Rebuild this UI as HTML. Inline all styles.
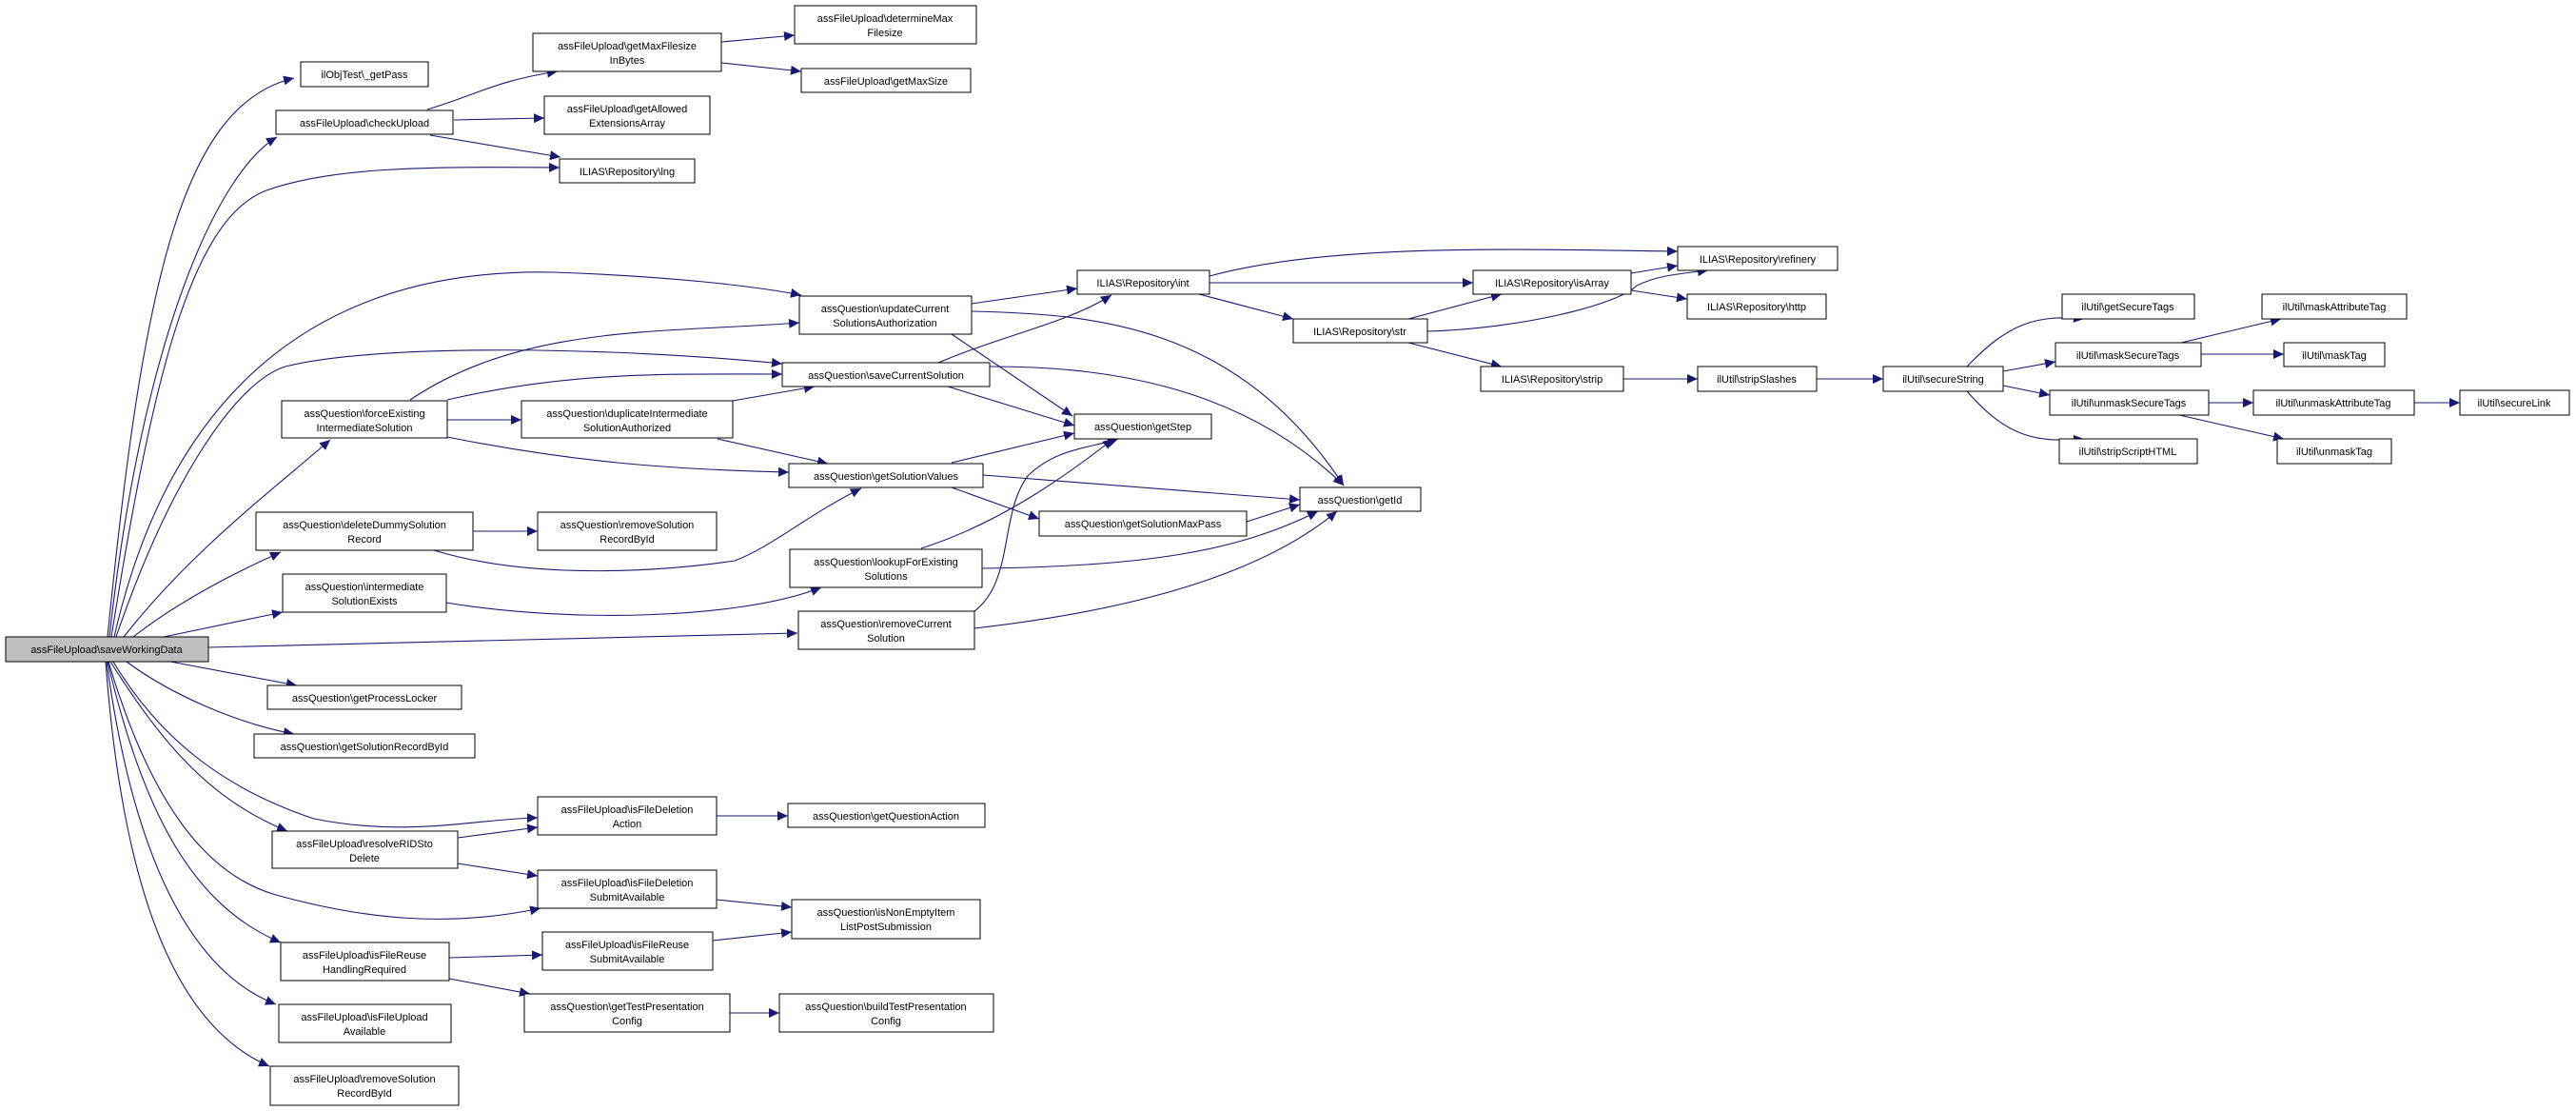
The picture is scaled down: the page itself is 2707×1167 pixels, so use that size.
<!DOCTYPE html>
<html><head><meta charset="utf-8"><style>
html,body{margin:0;padding:0;background:#fff;}
svg{display:block;}
text{font-family:"Liberation Sans",Arial,sans-serif;font-size:11px;fill:#000;}
.e{fill:none;stroke:#191970;stroke-width:1.1;marker-end:url(#a);}
.n{fill:#fff;stroke:#000;stroke-width:1;}
</style></head><body>
<svg width="2707" height="1167" viewBox="0 0 2707 1167" xmlns="http://www.w3.org/2000/svg">
<defs><marker id="a" markerUnits="userSpaceOnUse" markerWidth="12" markerHeight="10" refX="11" refY="5" orient="auto"><path d="M0,0 L11,5 L0,10 z" fill="#191970"/></marker></defs>
<g>
<!-- edges from saveWorkingData -->
<path class="e" d="M113,669 C150,300 190,110 309,82"/>
<path class="e" d="M115,669 C150,350 230,180 291,144"/>
<path class="e" d="M117,669 C160,400 200,230 280,200 C350,175 450,175 588,176"/>
<path class="e" d="M120,669 C170,450 300,280 582,286 C700,290 790,300 842,310"/>
<path class="e" d="M122,669 C180,500 250,400 300,385 C400,360 650,365 822,382"/>
<path class="e" d="M130,669 C200,580 280,520 347,462"/>
<path class="e" d="M140,669 C190,630 250,600 295,580"/>
<path class="e" d="M172,669 L297,643"/>
<path class="e" d="M219,680 L838,665"/>
<path class="e" d="M179,695 L312,720"/>
<path class="e" d="M133,695 C180,730 250,760 309,771"/>
<path class="e" d="M119,695 C170,780 240,830 330,860 C430,880 500,860 565,859"/>
<path class="e" d="M116,695 C170,780 220,840 302,873"/>
<path class="e" d="M114,695 C160,850 220,920 290,940 C380,965 470,975 568,954"/>
<path class="e" d="M113,695 C150,850 200,950 295,990"/>
<path class="e" d="M112,695 C140,900 200,1020 290,1055"/>
<path class="e" d="M111,695 C130,950 190,1080 283,1120"/>
<!-- checkUpload etc -->
<path class="e" d="M449,115 C500,100 520,85 586,75"/>
<path class="e" d="M477,126 L572,124"/>
<path class="e" d="M452,142 L589,165"/>
<path class="e" d="M758,44 L835,37"/>
<path class="e" d="M758,66 L842,75"/>
<!-- assQuestion cluster -->
<path class="e" d="M1021,319 L1132,303"/>
<path class="e" d="M1021,327 C1150,330 1300,340 1412,510"/>
<path class="e" d="M1000,351 L1127,437"/>
<path class="e" d="M986,381 C1060,350 1120,340 1168,310"/>
<path class="e" d="M1040,385 C1150,385 1300,400 1412,510"/>
<path class="e" d="M996,406 L1129,447"/>
<path class="e" d="M431,420 C550,340 700,350 840,339"/>
<path class="e" d="M470,420 C600,390 700,393 822,393"/>
<path class="e" d="M470,441 L548,441"/>
<path class="e" d="M470,459 C600,485 700,493 829,496"/>
<path class="e" d="M770,421 L856,406"/>
<path class="e" d="M754,461 L870,487"/>
<path class="e" d="M497,558 L565,558"/>
<path class="e" d="M456,578 C560,610 700,600 772,589 C810,575 850,540 905,513"/>
<path class="e" d="M1000,486 L1129,455"/>
<path class="e" d="M1033,499 L1366,525"/>
<path class="e" d="M1000,512 L1092,545"/>
<path class="e" d="M1310,548 L1366,530"/>
<path class="e" d="M968,576 C1050,550 1120,500 1170,461"/>
<path class="e" d="M1032,597 C1200,595 1300,580 1385,537"/>
<path class="e" d="M469,633 C600,655 780,650 863,617"/>
<path class="e" d="M1024,642 C1066,610 1050,540 1080,500 C1110,470 1150,470 1175,461"/>
<path class="e" d="M1024,660 C1200,640 1330,600 1405,537"/>
<!-- repository -->
<path class="e" d="M1271,290 C1400,255 1600,262 1763,264"/>
<path class="e" d="M1271,297 L1548,297"/>
<path class="e" d="M1260,309 L1359,335"/>
<path class="e" d="M1480,335 L1578,309"/>
<path class="e" d="M1500,348 C1600,345 1700,320 1720,300 C1740,290 1760,288 1795,284"/>
<path class="e" d="M1714,287 L1763,279"/>
<path class="e" d="M1714,305 L1773,314"/>
<path class="e" d="M1480,360 L1578,385"/>
<path class="e" d="M1706,398 L1784,398"/>
<path class="e" d="M1909,398 L1979,398"/>
<path class="e" d="M2067,385 C2110,340 2140,330 2190,335"/>
<path class="e" d="M2105,390 L2160,380"/>
<path class="e" d="M2105,405 L2154,415"/>
<path class="e" d="M2067,411 C2110,460 2140,465 2190,461"/>
<path class="e" d="M2292,360 L2397,335"/>
<path class="e" d="M2313,372 L2400,372"/>
<path class="e" d="M2321,423 L2368,423"/>
<path class="e" d="M2537,423 L2585,423"/>
<path class="e" d="M2290,436 L2400,461"/>
<!-- lower -->
<path class="e" d="M753,857 L828,857"/>
<path class="e" d="M481,880 L565,869"/>
<path class="e" d="M481,907 L565,920"/>
<path class="e" d="M753,945 L832,953"/>
<path class="e" d="M749,988 L832,979"/>
<path class="e" d="M472,1006 L570,1003"/>
<path class="e" d="M472,1028 L557,1044"/>
<path class="e" d="M767,1064 L819,1064"/>
</g>
<g>
<rect class="n" x="6" y="669" width="213" height="26" style="fill:#bfbfbf"/><text x="112" y="686" text-anchor="middle">assFileUpload\saveWorkingData</text>
<rect class="n" x="316" y="65" width="134" height="26"/><text x="383" y="82" text-anchor="middle">ilObjTest\_getPass</text>
<rect class="n" x="290" y="116" width="186" height="25"/><text x="383" y="133" text-anchor="middle">assFileUpload\checkUpload</text>
<rect class="n" x="560" y="35" width="198" height="40"/><text x="659" y="52" text-anchor="middle">assFileUpload\getMaxFilesize</text><text x="659" y="67" text-anchor="middle">InBytes</text>
<rect class="n" x="835" y="6" width="191" height="40"/><text x="930" y="23" text-anchor="middle">assFileUpload\determineMax</text><text x="930" y="38" text-anchor="middle">Filesize</text>
<rect class="n" x="842" y="72" width="178" height="25"/><text x="931" y="89" text-anchor="middle">assFileUpload\getMaxSize</text>
<rect class="n" x="572" y="101" width="174" height="40"/><text x="659" y="118" text-anchor="middle">assFileUpload\getAllowed</text><text x="659" y="133" text-anchor="middle">ExtensionsArray</text>
<rect class="n" x="588" y="167" width="142" height="25"/><text x="659" y="184" text-anchor="middle">ILIAS\Repository\lng</text>
<rect class="n" x="840" y="311" width="181" height="40"/><text x="930" y="328" text-anchor="middle">assQuestion\updateCurrent</text><text x="930" y="343" text-anchor="middle">SolutionsAuthorization</text>
<rect class="n" x="822" y="381" width="218" height="25"/><text x="931" y="398" text-anchor="middle">assQuestion\saveCurrentSolution</text>
<rect class="n" x="296" y="421" width="174" height="39"/><text x="383" y="438" text-anchor="middle">assQuestion\forceExisting</text><text x="383" y="453" text-anchor="middle">IntermediateSolution</text>
<rect class="n" x="548" y="421" width="222" height="39"/><text x="659" y="438" text-anchor="middle">assQuestion\duplicateIntermediate</text><text x="659" y="453" text-anchor="middle">SolutionAuthorized</text>
<rect class="n" x="829" y="487" width="204" height="25"/><text x="931" y="504" text-anchor="middle">assQuestion\getSolutionValues</text>
<rect class="n" x="269" y="538" width="228" height="40"/><text x="383" y="555" text-anchor="middle">assQuestion\deleteDummySolution</text><text x="383" y="570" text-anchor="middle">Record</text>
<rect class="n" x="565" y="538" width="188" height="40"/><text x="659" y="555" text-anchor="middle">assQuestion\removeSolution</text><text x="659" y="570" text-anchor="middle">RecordById</text>
<rect class="n" x="830" y="577" width="202" height="40"/><text x="931" y="594" text-anchor="middle">assQuestion\lookupForExisting</text><text x="931" y="609" text-anchor="middle">Solutions</text>
<rect class="n" x="297" y="603" width="172" height="40"/><text x="383" y="620" text-anchor="middle">assQuestion\intermediate</text><text x="383" y="635" text-anchor="middle">SolutionExists</text>
<rect class="n" x="839" y="642" width="185" height="40"/><text x="931" y="659" text-anchor="middle">assQuestion\removeCurrent</text><text x="931" y="674" text-anchor="middle">Solution</text>
<rect class="n" x="281" y="720" width="204" height="25"/><text x="383" y="737" text-anchor="middle">assQuestion\getProcessLocker</text>
<rect class="n" x="267" y="771" width="232" height="25"/><text x="383" y="788" text-anchor="middle">assQuestion\getSolutionRecordById</text>
<rect class="n" x="565" y="837" width="188" height="40"/><text x="659" y="854" text-anchor="middle">assFileUpload\isFileDeletion</text><text x="659" y="869" text-anchor="middle">Action</text>
<rect class="n" x="828" y="844" width="207" height="25"/><text x="931" y="861" text-anchor="middle">assQuestion\getQuestionAction</text>
<rect class="n" x="286" y="873" width="195" height="39"/><text x="383" y="890" text-anchor="middle">assFileUpload\resolveRIDSto</text><text x="383" y="905" text-anchor="middle">Delete</text>
<rect class="n" x="565" y="914" width="188" height="40"/><text x="659" y="931" text-anchor="middle">assFileUpload\isFileDeletion</text><text x="659" y="946" text-anchor="middle">SubmitAvailable</text>
<rect class="n" x="832" y="945" width="198" height="41"/><text x="931" y="962" text-anchor="middle">assQuestion\isNonEmptyItem</text><text x="931" y="977" text-anchor="middle">ListPostSubmission</text>
<rect class="n" x="570" y="979" width="179" height="40"/><text x="659" y="996" text-anchor="middle">assFileUpload\isFileReuse</text><text x="659" y="1011" text-anchor="middle">SubmitAvailable</text>
<rect class="n" x="295" y="990" width="177" height="40"/><text x="383" y="1007" text-anchor="middle">assFileUpload\isFileReuse</text><text x="383" y="1022" text-anchor="middle">HandlingRequired</text>
<rect class="n" x="551" y="1044" width="216" height="40"/><text x="659" y="1061" text-anchor="middle">assQuestion\getTestPresentation</text><text x="659" y="1076" text-anchor="middle">Config</text>
<rect class="n" x="819" y="1044" width="225" height="40"/><text x="931" y="1061" text-anchor="middle">assQuestion\buildTestPresentation</text><text x="931" y="1076" text-anchor="middle">Config</text>
<rect class="n" x="293" y="1055" width="181" height="40"/><text x="383" y="1072" text-anchor="middle">assFileUpload\isFileUpload</text><text x="383" y="1087" text-anchor="middle">Available</text>
<rect class="n" x="284" y="1120" width="198" height="41"/><text x="383" y="1137" text-anchor="middle">assFileUpload\removeSolution</text><text x="383" y="1152" text-anchor="middle">RecordById</text>
<rect class="n" x="1763" y="259" width="168" height="25"/><text x="1847" y="276" text-anchor="middle">ILIAS\Repository\refinery</text>
<rect class="n" x="1132" y="284" width="139" height="25"/><text x="1201" y="301" text-anchor="middle">ILIAS\Repository\int</text>
<rect class="n" x="1548" y="284" width="166" height="25"/><text x="1631" y="301" text-anchor="middle">ILIAS\Repository\isArray</text>
<rect class="n" x="1773" y="309" width="146" height="26"/><text x="1846" y="326" text-anchor="middle">ILIAS\Repository\http</text>
<rect class="n" x="1359" y="335" width="141" height="25"/><text x="1429" y="352" text-anchor="middle">ILIAS\Repository\str</text>
<rect class="n" x="1556" y="385" width="150" height="26"/><text x="1631" y="402" text-anchor="middle">ILIAS\Repository\strip</text>
<rect class="n" x="1784" y="385" width="125" height="26"/><text x="1846" y="402" text-anchor="middle">ilUtil\stripSlashes</text>
<rect class="n" x="1979" y="385" width="126" height="26"/><text x="2042" y="402" text-anchor="middle">ilUtil\secureString</text>
<rect class="n" x="2167" y="309" width="139" height="26"/><text x="2236" y="326" text-anchor="middle">ilUtil\getSecureTags</text>
<rect class="n" x="2377" y="309" width="152" height="26"/><text x="2453" y="326" text-anchor="middle">ilUtil\maskAttributeTag</text>
<rect class="n" x="2160" y="360" width="153" height="25"/><text x="2236" y="377" text-anchor="middle">ilUtil\maskSecureTags</text>
<rect class="n" x="2400" y="360" width="106" height="25"/><text x="2453" y="377" text-anchor="middle">ilUtil\maskTag</text>
<rect class="n" x="2154" y="410" width="167" height="26"/><text x="2237" y="427" text-anchor="middle">ilUtil\unmaskSecureTags</text>
<rect class="n" x="2368" y="410" width="169" height="26"/><text x="2452" y="427" text-anchor="middle">ilUtil\unmaskAttributeTag</text>
<rect class="n" x="2585" y="410" width="115" height="26"/><text x="2642" y="427" text-anchor="middle">ilUtil\secureLink</text>
<rect class="n" x="2164" y="461" width="145" height="26"/><text x="2236" y="478" text-anchor="middle">ilUtil\stripScriptHTML</text>
<rect class="n" x="2393" y="461" width="120" height="26"/><text x="2453" y="478" text-anchor="middle">ilUtil\unmaskTag</text>
<rect class="n" x="1129" y="435" width="144" height="26"/><text x="1201" y="452" text-anchor="middle">assQuestion\getStep</text>
<rect class="n" x="1366" y="512" width="127" height="25"/><text x="1429" y="529" text-anchor="middle">assQuestion\getId</text>
<rect class="n" x="1092" y="537" width="218" height="26"/><text x="1201" y="554" text-anchor="middle">assQuestion\getSolutionMaxPass</text>
</g>
</svg>
</body></html>
